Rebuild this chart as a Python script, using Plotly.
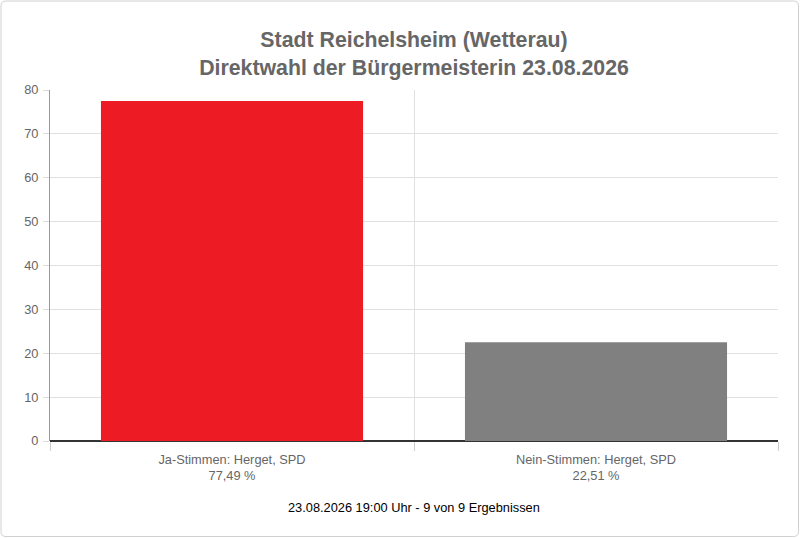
import plotly.graph_objects as go

categories = ["Ja-Stimmen: Herget, SPD<br>77,49 %", "Nein-Stimmen: Herget, SPD<br>22,51 %"]
values = [77.49, 22.51]
colors = ["#ed1c24", "#808080"]
title_lines = ["Stadt Reichelsheim (Wetterau)", "Direktwahl der Bürgermeisterin 23.08.2026"]
footer = "23.08.2026 19:00 Uhr - 9 von 9 Ergebnissen"

W, H = 800, 538
L, R, T, B = 50, 22, 90, 97
pw, ph = W - L - R, H - T - B

def px(X):
    return (X - L) / pw

def py(Y):
    return (H - B - Y) / ph

fig = go.Figure(go.Bar(x=categories, y=values, marker=dict(color=colors, line=dict(width=0)),
                       width=0.72, hoverinfo="skip"))

# rounded border
x0, x1, y0, y1 = px(1), px(798.5), py(536.5), py(1)
rx, ry = 5 / pw, 5 / ph
path = (f"M {x0+rx},{y1} L {x1-rx},{y1} Q {x1},{y1} {x1},{y1-ry} "
        f"L {x1},{y0+ry} Q {x1},{y0} {x1-rx},{y0} L {x0+rx},{y0} "
        f"Q {x0},{y0} {x0},{y0+ry} L {x0},{y1-ry} Q {x0},{y1} {x0+rx},{y1} Z")

fs = 12.8
fig.update_layout(
    width=W, height=H,
    margin=dict(l=L, r=R, t=T, b=B),
    paper_bgcolor="white", plot_bgcolor="white",
    font=dict(family="Liberation Sans, Arial, sans-serif", size=fs, color="#666666"),
    title=dict(text="<b>" + "<br>".join(title_lines) + "</b>", x=0.5, xanchor="center",
               xref="paper", y=1 - 47 / H, yanchor="middle", yref="container",
               font=dict(size=21.3, color="#666666")),
    showlegend=False,
    xaxis=dict(type="category", tickson="boundaries", showgrid=True, gridcolor="#e0e0e0",
               ticks="outside", ticklen=9, tickcolor="#cccccc", showline=False,
               ticklabelstandoff=9,
               tickfont=dict(size=fs, color="#666666"), fixedrange=True),
    yaxis=dict(range=[0, 80], dtick=10, showgrid=True, gridcolor="#e0e0e0",
               ticks="outside", ticklen=6, tickcolor="#dddddd",
               showline=True, linecolor="#999999", linewidth=1,
               zeroline=True, zerolinecolor="#333333", zerolinewidth=1.5,
               ticklabelstandoff=2,
               tickfont=dict(size=fs, color="#666666"), fixedrange=True),
    shapes=[dict(type="path", xref="paper", yref="paper", path=path,
                 line=dict(color="#d0d0d0", width=1), fillcolor="rgba(0,0,0,0)", layer="below")],
    annotations=[dict(text=footer, xref="paper", yref="paper", x=px(414), y=py(507),
                      xanchor="center", yanchor="middle", showarrow=False,
                      font=dict(size=fs, color="#000000"))],
)

fig.write_html("out.html", config={"displayModeBar": False},
               post_script="document.body.style.margin='0';document.body.style.overflow='hidden';")
